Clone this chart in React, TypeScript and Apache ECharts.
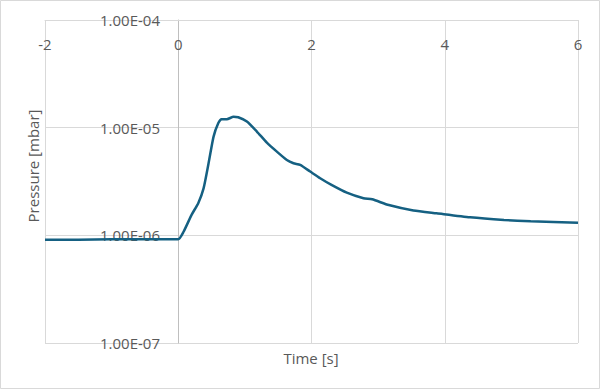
import React, { useEffect, useRef } from "react";
import * as echarts from "echarts";

const times = [-2, -1.5, -1, -0.5, 0, 0.08, 0.2, 0.3, 0.38, 0.455, 0.53, 0.6, 0.65, 0.73, 0.83, 0.9, 1.03, 1.18, 1.33, 1.48, 1.63, 1.73, 1.83, 1.98, 2.13, 2.3, 2.53, 2.78, 2.91, 3.16, 3.53, 3.88, 4.38, 4.89, 5.29, 6.0];
const pressures = [9.1e-7, 9.1e-7, 9.2e-7, 9.2e-7, 9.2e-7, 1.08e-6, 1.55e-6, 1.99e-6, 2.73e-6, 4.67e-6, 8.26e-6, 1.1e-5, 1.2e-5, 1.2e-5, 1.26e-5, 1.25e-5, 1.14e-5, 9.2e-6, 7.26e-6, 5.99e-6, 5.01e-6, 4.67e-6, 4.51e-6, 3.91e-6, 3.39e-6, 2.94e-6, 2.49e-6, 2.21e-6, 2.16e-6, 1.91e-6, 1.7e-6, 1.6e-6, 1.47e-6, 1.39e-6, 1.35e-6, 1.31e-6];
const xTitle = "Time [s]";
const yTitle = "Pressure [mbar]";

const FONT = "Open Sans";
const TXT = "#595959";
const GRID = "#d9d9d9";

function fmtExp(v: number): string {
  const e = Math.round(Math.log10(v));
  const m = v / Math.pow(10, e);
  const sign = e < 0 ? "-" : "+";
  const a = Math.abs(e);
  return m.toFixed(2) + "E" + sign + (a < 10 ? "0" + a : String(a));
}

export default function App() {
  const ref = useRef<HTMLDivElement>(null);
  useEffect(() => {
    if (!ref.current) return;
    const chart = echarts.init(ref.current, undefined, { renderer: "svg" });
    chart.setOption({
      animation: false,
      backgroundColor: "#ffffff",
      textStyle: { fontFamily: FONT },
      grid: { left: 45, right: 22, top: 20, bottom: 46, containLabel: false, outerBoundsMode: "none" },
      xAxis: {
        type: "value",
        min: -2,
        max: 6,
        interval: 2,
        position: "top",
        axisLine: { show: true, lineStyle: { color: GRID } },
        axisTick: { show: false },
        axisLabel: { inside: true, margin: 16, color: TXT, fontSize: 15, fontFamily: FONT, showMinLabel: true, showMaxLabel: true },
        splitLine: { show: true, lineStyle: { color: GRID, width: 1 } },
      },
      yAxis: {
        type: "log",
        logBase: 10,
        min: 1e-7,
        max: 1e-4,
        position: "left",
        offset: -133,
        axisLine: { show: true, onZero: false, lineStyle: { color: "#bfbfbf" } },
        axisTick: { show: false },
        axisLabel: { margin: 18, color: TXT, fontSize: 15, fontFamily: FONT, formatter: (v: number) => fmtExp(v) },
        splitLine: { show: true, lineStyle: { color: GRID, width: 1 } },
      },
      graphic: [
        { type: "rect", shape: { x: 0.5, y: 0.5, width: 599, height: 388 }, style: { fill: "none", stroke: GRID, lineWidth: 1 }, silent: true },
        { type: "text", x: 311, y: 358, style: { text: xTitle, fill: TXT, fontSize: 15, fontFamily: FONT, align: "center", verticalAlign: "middle" } },
        { type: "text", x: 33, y: 166, rotation: Math.PI / 2, style: { text: yTitle, fill: TXT, fontSize: 15, fontFamily: FONT, align: "center", verticalAlign: "middle" } },
      ],
      series: [
        {
          type: "line",
          data: times.map((t, i) => [t, pressures[i]]),
          smooth: 0.2,
          showSymbol: false,
          lineStyle: { color: "#156082", width: 2.5 },
          itemStyle: { color: "#156082" },
        },
      ],
    });
    return () => chart.dispose();
  }, []);
  return <div ref={ref} style={{ position: "absolute", left: 0, top: 0, width: 600, height: 389 }} />;
}
